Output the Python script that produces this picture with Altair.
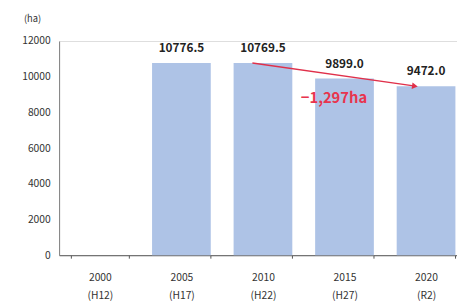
import altair as alt
import pandas as pd

years = ["2000", "2005", "2010", "2015", "2020"]
eras = ["(H12)", "(H17)", "(H22)", "(H27)", "(R2)"]
areas = [None, 10776.5, 10769.5, 9899.0, 9472.0]
value_labels = ["", "10776.5", "10769.5", "9899.0", "9472.0"]
y_ticks = [0, 2000, 4000, 6000, 8000, 10000, 12000]

arrow_from = ("2010", 10769.5)
arrow_to = ("2020", 9472.0)
change_label = "−1,297ha"
change_pos = ("2015", 8800)

cats = [f"{y}\n{e}" for y, e in zip(years, eras)]
df = pd.DataFrame({"cat": cats, "area": areas, "label": value_labels})

FONT = "Noto Sans CJK JP"
xscale = alt.Scale(domain=cats, range=[0, 415], paddingInner=0.28, paddingOuter=0.14)
yscale = alt.Scale(domain=[0, 12000])

x_axis = alt.Axis(
    labelExpr="split(datum.label, '\\n')", labelAngle=0, labelFont=FONT,
    labelFontSize=10.5, labelColor="#333333", labelLineHeight=18, labelPadding=15,
    domainColor="#555555", tickColor="#555555", tickSize=3, tickBand="extent",
    labelOverlap=False,
)
y_axis = alt.Axis(
    values=y_ticks, format="d", grid=False, ticks=False, labelPadding=9,
    labelFont=FONT, labelFontSize=10.5, labelColor="#333333",
    domainColor="#808080", labelOverlap=False,
)

def xo(bp=0.5):
    return alt.X("cat:N", scale=xscale, sort=cats, bandPosition=bp, axis=x_axis, title=None)

def yo():
    return alt.Y("area:Q", scale=yscale, axis=y_axis, title=None)

bars = alt.Chart(df).mark_bar(color="#aec3e6").encode(x=xo(), y=yo())

texts = alt.Chart(df).transform_filter("datum.label != ''").mark_text(
    baseline="bottom", dy=-8, font=FONT, fontSize=12, fontWeight="bold", color="#222222"
).encode(x=xo(), y=yo(), text="label:N")

arrow_df = pd.DataFrame({
    "cat": [cats[years.index(arrow_from[0])], cats[years.index(arrow_to[0])]],
    "area": [arrow_from[1], arrow_to[1]],
})
arrow_line = alt.Chart(arrow_df).mark_line(color="#e0304a", strokeWidth=1.3).encode(
    x=xo(0.32), y=yo(),
)
arrow_head = alt.Chart(arrow_df.iloc[[1]]).mark_point(
    shape="triangle-right", filled=True, color="#e0304a", size=45, angle=8, opacity=1
).encode(x=xo(0.31), y=yo())

change_df = pd.DataFrame({
    "cat": [cats[years.index(change_pos[0])]], "area": [change_pos[1]], "t": [change_label]
})
change_text = alt.Chart(change_df).mark_text(
    font=FONT, fontSize=15, fontWeight="bold", color="#e8344e", baseline="middle"
).encode(x=xo(0.32), y=yo(), text="t:N")

unit = alt.Chart(pd.DataFrame({"t": ["(ha)"]})).mark_text(
    font=FONT, fontSize=9.5, color="#333333"
).encode(x=alt.value(-27), y=alt.value(-22), text="t:N")

chart = alt.layer(bars, texts, arrow_line, arrow_head, change_text, unit).properties(
    width=405, height=218,
    autosize=alt.AutoSizeParams(type="none"),
    padding={"left": 52, "top": 31, "right": 0, "bottom": 46},
).configure_view(stroke=None).configure(background="white")

chart.save("out.html", embed_options={"renderer": "svg", "actions": False})
